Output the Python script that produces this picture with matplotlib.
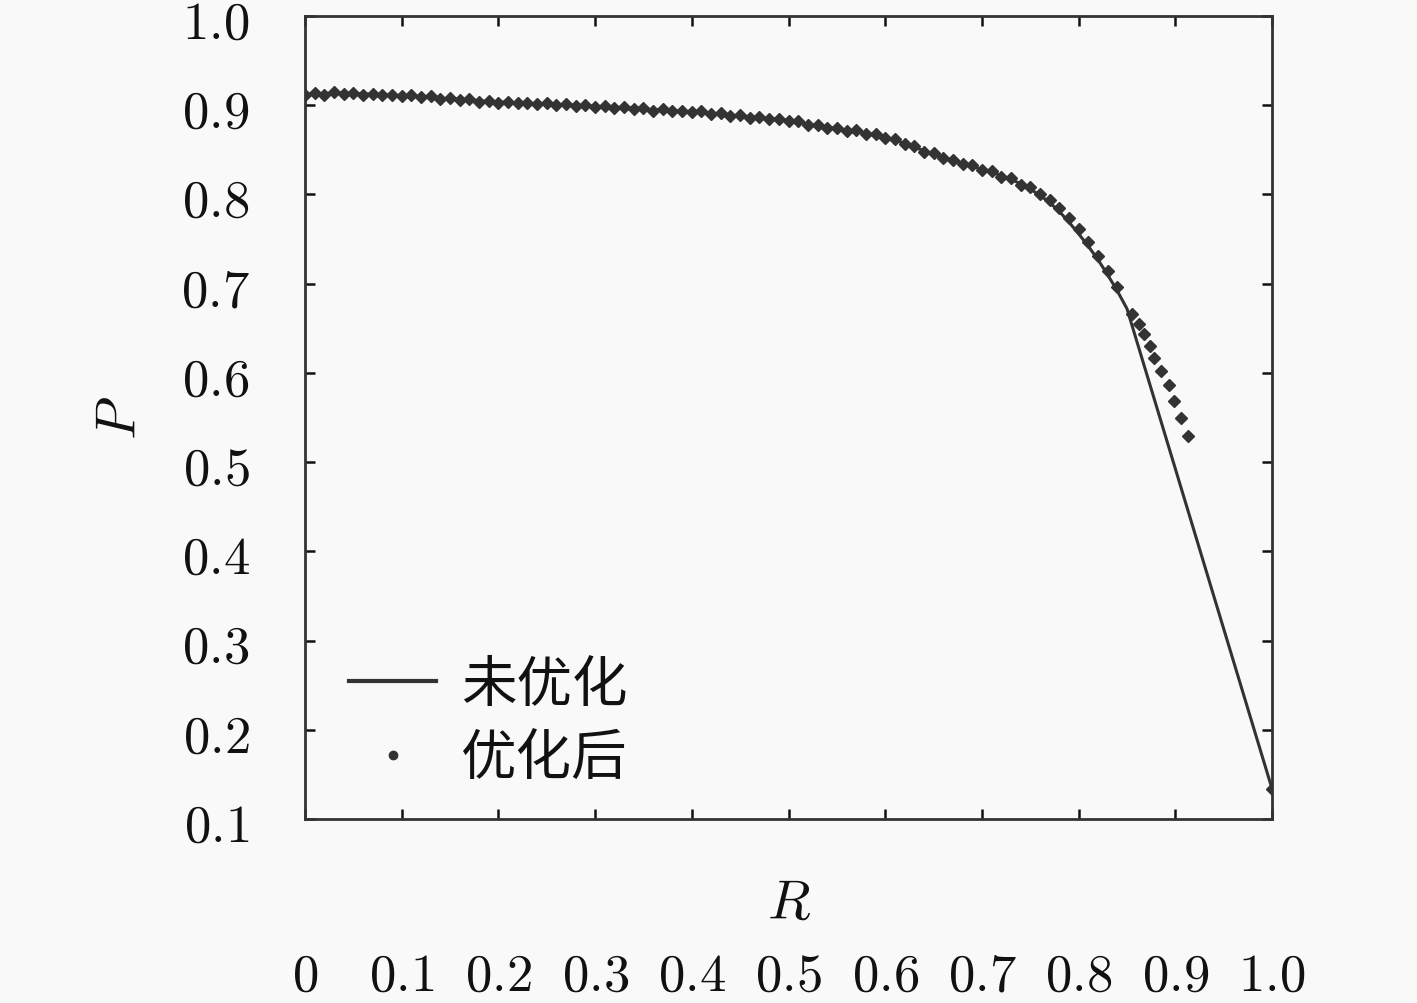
import matplotlib
matplotlib.use("Agg")
import matplotlib.pyplot as plt

plt.rcParams['mathtext.fontset'] = 'cm'
plt.rcParams['font.family'] = ['Noto Sans CJK SC', 'DejaVu Sans']

# ---- data ----
r_dense = [0.00, 0.01, 0.02, 0.03, 0.04, 0.05, 0.06, 0.07, 0.08, 0.09,
           0.10, 0.11, 0.12, 0.13, 0.14, 0.15, 0.16, 0.17, 0.18, 0.19,
           0.20, 0.21, 0.22, 0.23, 0.24, 0.25, 0.26, 0.27, 0.28, 0.29,
           0.30, 0.31, 0.32, 0.33, 0.34, 0.35, 0.36, 0.37, 0.38, 0.39,
           0.40, 0.41, 0.42, 0.43, 0.44, 0.45, 0.46, 0.47, 0.48, 0.49,
           0.50, 0.51, 0.52, 0.53, 0.54, 0.55, 0.56, 0.57, 0.58, 0.59,
           0.60, 0.61, 0.62, 0.63, 0.64, 0.65, 0.66, 0.67, 0.68, 0.69,
           0.70, 0.71, 0.72, 0.73, 0.74, 0.75, 0.76, 0.77, 0.78, 0.79,
           0.80, 0.81, 0.82, 0.83, 0.84]

p_unopt = [0.912, 0.913, 0.913, 0.914, 0.914, 0.913, 0.913, 0.912, 0.912, 0.911,
           0.911, 0.910, 0.909, 0.909, 0.908, 0.907, 0.907, 0.906, 0.905, 0.904,
           0.904, 0.903, 0.903, 0.902, 0.902, 0.901, 0.901, 0.900, 0.900, 0.899,
           0.899, 0.898, 0.898, 0.897, 0.897, 0.896, 0.895, 0.895, 0.894, 0.893,
           0.893, 0.892, 0.891, 0.890, 0.889, 0.888, 0.887, 0.886, 0.885, 0.884,
           0.883, 0.881, 0.879, 0.877, 0.875, 0.874, 0.872, 0.871, 0.869, 0.867,
           0.864, 0.861, 0.857, 0.853, 0.849, 0.845, 0.842, 0.838, 0.835, 0.832,
           0.828, 0.825, 0.821, 0.817, 0.812, 0.806, 0.799, 0.791, 0.781, 0.769,
           0.756, 0.742, 0.727, 0.710, 0.692]

p_opt = [0.911, 0.914, 0.912, 0.915, 0.913, 0.914, 0.912, 0.913, 0.911, 0.912,
         0.910, 0.911, 0.909, 0.910, 0.907, 0.908, 0.906, 0.907, 0.904, 0.905,
         0.903, 0.904, 0.902, 0.903, 0.901, 0.902, 0.900, 0.901, 0.899, 0.900,
         0.898, 0.899, 0.897, 0.898, 0.896, 0.897, 0.894, 0.896, 0.893, 0.894,
         0.892, 0.893, 0.890, 0.891, 0.888, 0.889, 0.886, 0.887, 0.884, 0.885,
         0.882, 0.882, 0.878, 0.878, 0.874, 0.875, 0.871, 0.872, 0.868, 0.868,
         0.863, 0.862, 0.856, 0.854, 0.848, 0.846, 0.841, 0.839, 0.834, 0.833,
         0.827, 0.826, 0.820, 0.818, 0.811, 0.808, 0.801, 0.794, 0.785, 0.774,
         0.761, 0.747, 0.731, 0.714, 0.696]

r_unopt_tail = [0.85, 1.00]
p_unopt_tail = [0.672, 0.134]

r_opt_tail = [0.855, 0.862, 0.868, 0.874, 0.878, 0.885, 0.893, 0.899, 0.906, 0.913, 1.00]
p_opt_tail = [0.666, 0.655, 0.644, 0.630, 0.617, 0.602, 0.586, 0.568, 0.549, 0.529, 0.134]

x_ticks = [0.0, 0.1, 0.2, 0.3, 0.4, 0.5, 0.6, 0.7, 0.8, 0.9, 1.0]
x_ticklabels = ['0', '0.1', '0.2', '0.3', '0.4', '0.5', '0.6', '0.7', '0.8', '0.9', '1.0']
y_ticks = [0.1, 0.2, 0.3, 0.4, 0.5, 0.6, 0.7, 0.8, 0.9, 1.0]
y_ticklabels = ['0.1', '0.2', '0.3', '0.4', '0.5', '0.6', '0.7', '0.8', '0.9', '1.0']
label_unopt = '未优化'
label_opt = '优化后'

# ---- figure ----
bg = '#f9f9f9'
ink = '#333333'
fig = plt.figure(figsize=(14.17, 10.04), dpi=100, facecolor=bg)
ax = fig.add_axes([305/1417, 1 - 820/1004, (1272-305)/1417, (820-17)/1004])
ax.set_facecolor(bg)

ax.plot(r_dense + r_unopt_tail, p_unopt + p_unopt_tail, color=ink, lw=2.2,
        label=label_unopt, zorder=2)
ax.plot(r_dense + r_opt_tail, p_opt + p_opt_tail, linestyle='none', marker='D',
        ms=6.5, color=ink, mec=ink, label=label_opt, zorder=3)

ax.set_xlim(0, 1.0)
ax.set_ylim(0.1, 1.0)
ax.set_xticks(x_ticks)
ax.set_xticklabels(['$' + t + '$' for t in x_ticklabels])
ax.set_yticks(y_ticks)
ax.set_yticklabels(['$' + t + '$' for t in y_ticklabels])

for s in ax.spines.values():
    s.set_linewidth(2.0)
    s.set_color(ink)

ax.tick_params(direction='in', length=7, width=1.8, color='#111111',
               top=True, right=True, labelsize=38, labelcolor='#111111')
ax.tick_params(axis='x', pad=92)
ax.tick_params(axis='y', pad=40)

ax.set_xlabel('$R$', fontsize=40, color='#111111')
ax.xaxis.set_label_coords(0.5, -0.068)
ax.set_ylabel('$P$', fontsize=40, color='#111111')
ax.yaxis.set_label_coords(-0.162, 0.5)

leg = ax.legend(loc='center left', bbox_to_anchor=(0.046, 0.121), frameon=False,
                fontsize=40, handlelength=1.55, handletextpad=0.45, labelspacing=0.3,
                borderpad=0, borderaxespad=0, numpoints=1)
for t in leg.get_texts():
    t.set_color('#111111')
leg.legend_handles[0].set_linewidth(3.0)
leg.legend_handles[1].set_marker('o')
leg.legend_handles[1].set_markersize(6)

fig.savefig('out.png', dpi=100, facecolor=bg)
